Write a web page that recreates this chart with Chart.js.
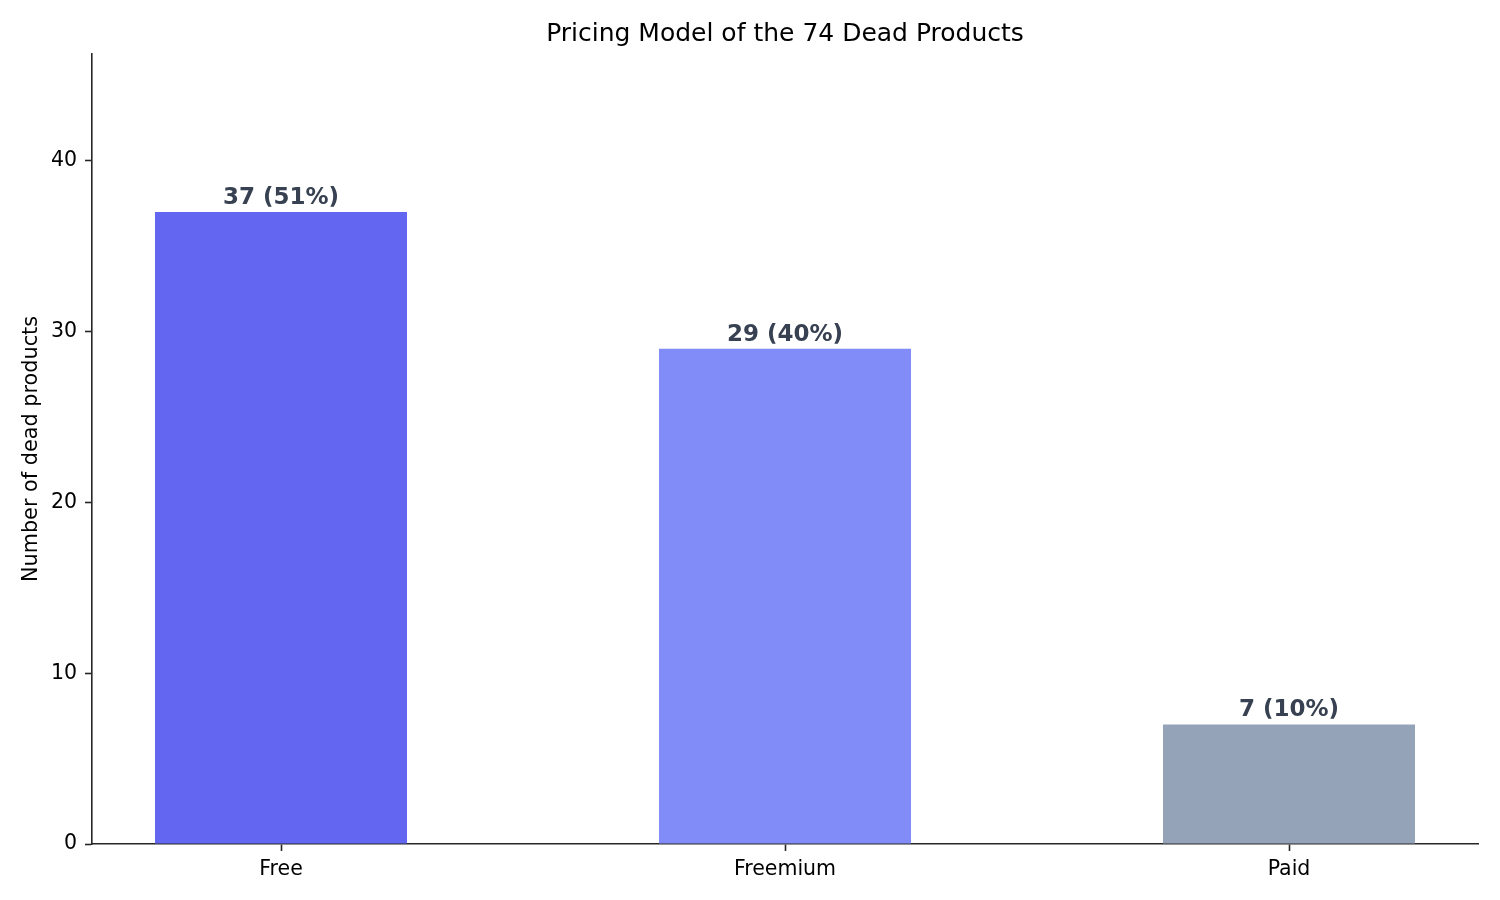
<!DOCTYPE html>
<html>
<head>
<meta charset="utf-8">
<script src="https://cdn.jsdelivr.net/npm/chart.js@4.4.1/dist/chart.umd.min.js"></script>
<style>
  html, body { margin: 0; padding: 0; background: #fff; }
  #wrap { width: 1500px; height: 900px; }
</style>
</head>
<body>
<div id="wrap"><canvas id="pricingChart" width="1500" height="900"></canvas></div>
<script>
const categories = ['Free', 'Freemium', 'Paid'];
const counts = [37, 29, 7];
const shares = [51, 40, 10];
const yTicks = [0, 10, 20, 30, 40];
const barColors = ['#6366F1', '#818CF8', '#94A3B8'];

const FONT = 'DejaVu Sans';

// value labels above each bar, like ax.bar_label
const barLabels = {
   id: 'barLabels',
   afterDatasetsDraw(chart) {
      const ctx = chart.ctx;
      const meta = chart.getDatasetMeta(0);
      ctx.save();
      ctx.font = 'bold 23px "' + FONT + '"';
      ctx.fillStyle = '#374151';
      ctx.textAlign = 'center';
      ctx.textBaseline = 'alphabetic';
      meta.data.forEach((bar, i) => {
         ctx.fillText(counts[i] + ' (' + shares[i] + '%)', bar.x, bar.y - 8);
      });
      ctx.restore();
   }
};

document.addEventListener('DOMContentLoaded', () => {
   const ctx = document.getElementById('pricingChart').getContext('2d');
   new Chart(ctx, {
      type: 'bar',
      data: {
         datasets: [{
            data: counts.map((v, i) => ({ x: i, y: v })),
            backgroundColor: barColors,
            borderWidth: 0,
            categoryPercentage: 1,
            barPercentage: 0.5
         }]
      },
      options: {
         responsive: false,
         animation: false,
         devicePixelRatio: 1,
         layout: { padding: { left: 0, right: 22, top: 0, bottom: 0 } },
         scales: {
            x: {
               type: 'linear',
               offset: false,
               min: -0.375,
               max: 2.375,
               afterBuildTicks: (scale) => {
                  scale.ticks = categories.map((c, i) => ({ value: i }));
               },
               afterFit: (scale) => { scale.height = 56; },
               ticks: {
                  callback: (v) => categories[v],
                  color: '#000',
                  font: { family: FONT, size: 20.5 },
                  padding: 6,
                  maxRotation: 0
               },
               grid: {
                  offset: false,
                  drawOnChartArea: false,
                  tickLength: 7,
                  tickWidth: 1.6,
                  tickColor: '#262626'
               },
               border: { color: '#262626', width: 1.6 }
            },
            y: {
               min: 0,
               max: 46.25,
               afterBuildTicks: (scale) => {
                  scale.ticks = yTicks.map((v) => ({ value: v }));
               },
               afterFit: (scale) => { scale.width = 92; },
               ticks: {
                  color: '#000',
                  font: { family: FONT, size: 20.5 },
                  padding: 8
               },
               grid: {
                  drawOnChartArea: false,
                  tickLength: 7,
                  tickWidth: 1.6,
                  tickColor: '#262626'
               },
               border: { color: '#262626', width: 1.6 },
               title: {
                  display: true,
                  text: 'Number of dead products',
                  color: '#000',
                  font: { family: FONT, size: 20.8 },
                  padding: { top: 19, bottom: 0 }
               }
            }
         },
         plugins: {
            legend: { display: false },
            tooltip: { enabled: false },
            title: {
               display: true,
               fullSize: false,
               text: 'Pricing Model of the 74 Dead Products',
               color: '#000',
               font: { family: FONT, size: 25, weight: 'normal' },
               padding: { top: 19, bottom: 5 }
            }
         }
      },
      plugins: [barLabels]
   });
});
</script>
</body>
</html>
